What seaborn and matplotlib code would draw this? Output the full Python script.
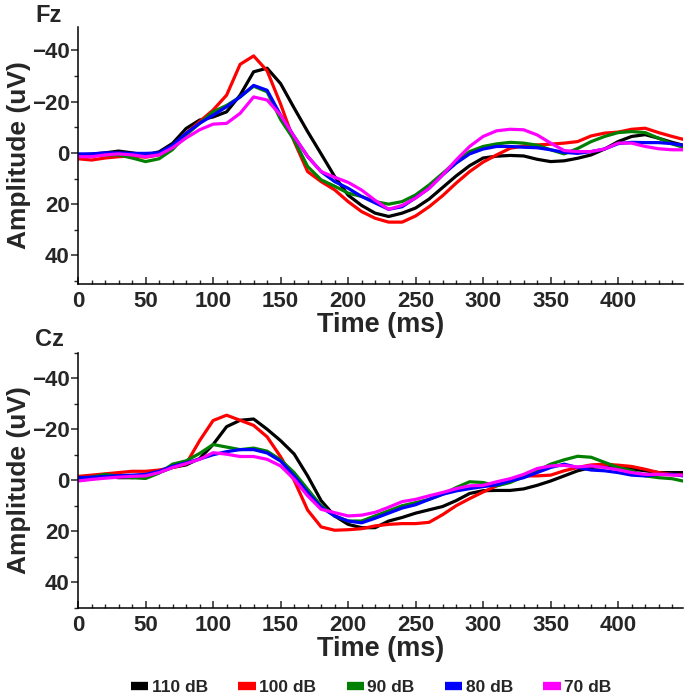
import matplotlib
matplotlib.use("Agg")
import matplotlib.pyplot as plt
from matplotlib.lines import Line2D
from matplotlib.ticker import MultipleLocator
import seaborn as sns
import pandas as pd

# time axis (ms)
time_ms = list(range(0, 450, 10)) + [448]

levels = ["110 dB", "100 dB", "90 dB", "80 dB", "70 dB"]
colors = ["#000000", "#ff0000", "#008000", "#0000ff", "#ff00ff"]

# Fz amplitudes (uV)
fz_110 = [0.8, 0.5, 0, -0.7, 0, 0.8, -0.4, -3.7, -9.5, -12.8, -14, -16, -22.5, -31.6, -33, -27,
          -17.5, -8.3, 0.4, 9.2, 16.5, 20.5, 23.5, 24.8, 23.5, 21.5, 18, 13.5, 9, 5, 2, 1.3, 1,
          1.2, 2.5, 3.4, 3.1, 2.1, 0.8, -1.5, -4.4, -6.4, -7.1, -5.7, -4.1, -3]
fz_100 = [2.3, 2.8, 2, 1.5, 1.2, 1.7, 0.8, -2.4, -7.6, -12.2, -16.7, -22.5, -34.5, -37.8, -32, -19,
          -4.5, 7.3, 11.2, 14.4, 19, 22.9, 25.5, 27, 27, 24.6, 21, 16.7, 11.8, 7.3, 3.6, 0.8, -1.8,
          -2.7, -3.1, -3.4, -3.8, -4.4, -6.6, -7.7, -8.1, -9.2, -9.6, -7.9, -6.4, -5.3]
fz_90 = [0.8, 1, 0.8, 0.8, 2, 3.4, 2.3, -1.3, -7, -11.5, -16, -18.5, -21.8, -26, -23.8, -13,
         -5, 5.3, 10.5, 13, 15.7, 17, 19, 20, 19, 16.4, 12.5, 8, 3.4, -0.5, -2.5, -3.5, -4.1,
         -3.8, -3, -1.2, 0.4, -1.7, -4.4, -6.4, -7.9, -8.3, -7.9, -5.7, -3.5, -2.2]
fz_80 = [0.4, 0.4, 0, 0, 0.2, 0.2, 0, -3, -7.6, -11.5, -14.7, -18, -21.8, -26.3, -24.4, -14.7,
         -6.4, 1.4, 7.3, 11.2, 13.8, 17, 19.5, 22, 21, 17.5, 13.8, 8.6, 4, 0.4, -1.5, -2.5, -2.5,
         -2.2, -2, -1.2, -0.2, 0.2, -0.5, -1.5, -3.6, -4.1, -4, -4, -3.6, -3]
fz_70 = [1.5, 1.5, 0.8, 0.4, 0.8, 1.5, 0.8, -2, -5.8, -9, -11.2, -11.5, -15.4, -21.8, -20.6, -14.7,
         -6.4, 1.4, 7.3, 9.5, 11.5, 14.5, 18.5, 22, 20.5, 17.6, 13.8, 8.6, 2.8, -2.5, -6.4, -8.6,
         -9.2, -9, -7, -3.8, -0.9, -0.5, -0.5, -1.5, -3.8, -3.8, -2.5, -1.6, -1.2, -1.2]

# Cz amplitudes (uV)
cz_110 = [0, -0.5, -1.5, -1, -1, -1.5, -3, -5, -6, -8.5, -14, -21, -23.5, -24, -20, -15.5,
          -10.3, -1.7, 8, 14, 17.3, 18.6, 18.6, 16, 14.6, 12.9, 11.6, 10.3, 8, 5.2, 4.1, 4, 4,
          3.4, 2, 0.3, -1.7, -3.7, -5, -5.4, -5, -4.4, -3.7, -3, -3, -3]
cz_100 = [-1.5, -2, -2.5, -3, -3.5, -3.5, -4, -5, -6.4, -15.5, -23.4, -25.5, -23.5, -21.5, -17, -9.2,
          0, 11.7, 18.3, 19.6, 19.4, 19, 17.9, 17.3, 17, 17, 16.5, 13.5, 10, 7.2, 4.6, 2.2, 0.3,
          -1.7, -1.7, -2, -3.7, -5, -6, -6.3, -5.9, -5.4, -4.3, -3, -2.3, -2]
cz_90 = [-0.4, -1.2, -2.3, -1.6, -1, -0.7, -2.8, -6.3, -7.6, -10.5, -14, -13, -12, -12.6, -11.4, -8,
         -3, 3.5, 10, 14, 16, 16, 14, 12, 10, 8.8, 7.5, 5.5, 2.9, 0.6, 0.9, 2.2, 0.9,
         -1.4, -3.7, -6.3, -8, -9.4, -9, -7, -5, -3.7, -1.7, -1, -0.6, 0.3]
cz_80 = [-1, -1.2, -1.5, -1.8, -2, -2.3, -3.5, -5.5, -6.8, -8.3, -10, -11.2, -12, -12, -10.7, -7.5,
         -1.7, 4.8, 10.6, 14, 16, 16.7, 14.9, 12.9, 10.9, 9.6, 7.5, 5.5, 4.2, 3.3, 2.5, 1.8, 0.3,
         -1, -3, -5, -6.3, -5, -4, -3.7, -3, -2, -1.7, -2.3, -2.3, -1.7]
cz_70 = [0.3, -0.3, -0.8, -1.2, -1.5, -1.7, -3, -5, -6.5, -8.2, -10.8, -10.2, -9.3, -9.3, -8.2, -5.6,
         -0.4, 6.1, 11.4, 12.7, 14, 13.7, 12.6, 10.6, 8.4, 7.5, 6.1, 4.8, 3.3, 2.2, 2, 0.6, -0.6,
         -2.3, -4.6, -5.6, -5.8, -5.2, -5.6, -5, -4.1, -3, -2.3, -2.3, -2, -2]

fz_series = [fz_110, fz_100, fz_90, fz_80, fz_70]
cz_series = [cz_110, cz_100, cz_90, cz_80, cz_70]


def to_long(series):
    frames = []
    for lvl, vals in zip(levels, series):
        frames.append(pd.DataFrame({"time": time_ms, "amp": vals, "level": lvl}))
    return pd.concat(frames, ignore_index=True)


sns.set_style("ticks")
plt.rcParams["font.family"] = ["Liberation Sans", "DejaVu Sans"]
plt.rcParams["font.weight"] = "bold"

fig = plt.figure(figsize=(6.85, 6.97), dpi=100)
ax_fz = fig.add_axes([0.114, 0.593, 0.883, 0.368])
ax_cz = fig.add_axes([0.114, 0.128, 0.883, 0.366])

palette = dict(zip(levels, colors))

for ax, series, ylim in [(ax_fz, fz_series, (51, -49)),
                         (ax_cz, cz_series, (50, -50))]:
    sns.lineplot(data=to_long(series), x="time", y="amp", hue="level", hue_order=levels,
                 palette=palette, linewidth=2.3, legend=False, ax=ax)
    for ln in ax.lines:
        ln.set_solid_joinstyle("round")
    ax.set_xlim(0, 448)
    ax.set_ylim(*ylim)
    ax.set_yticks([-40, -20, 0, 20, 40])
    ax.yaxis.set_minor_locator(MultipleLocator(10))
    ax.set_xticks([0, 50, 100, 150, 200, 250, 300, 350, 400])
    ax.xaxis.set_minor_locator(MultipleLocator(10))
    ax.tick_params(axis="y", which="major", direction="out", length=5, width=1.1,
                   labelsize=16, pad=1)
    ax.tick_params(axis="y", which="minor", direction="out", length=3, width=1)
    ax.tick_params(axis="x", which="major", direction="in", length=5, width=1.1,
                   labelsize=16, pad=5)
    ax.tick_params(axis="x", which="minor", direction="in", length=3, width=1)
    for lab in ax.get_xticklabels() + ax.get_yticklabels():
        lab.set_fontweight("bold")
    sns.despine(ax=ax)
    for sp in ("left", "bottom"):
        ax.spines[sp].set_linewidth(1.1)
        ax.spines[sp].set_color("black")
    ax.set_xlabel("Time (ms)", fontsize=19.5, fontweight="bold", labelpad=0)
    ax.set_ylabel("Amplitude (uV)", fontsize=19, fontweight="bold", labelpad=1)

fig.text(0.051, 0.978, "Fz", fontsize=17, fontweight="bold", ha="left", va="center")
fig.text(0.051, 0.513, "Cz", fontsize=17, fontweight="bold", ha="left", va="center")

handles = [Line2D([], [], color=c, linewidth=6, solid_capstyle="butt") for c in colors]
fig.legend(handles, levels, loc="center", bbox_to_anchor=(0.542, 0.014), ncol=5,
           frameon=False, handlelength=1.0, handletextpad=0.2, columnspacing=1.75,
           prop={"weight": "bold", "size": 12.5})

fig.savefig("out.png", dpi=100)
